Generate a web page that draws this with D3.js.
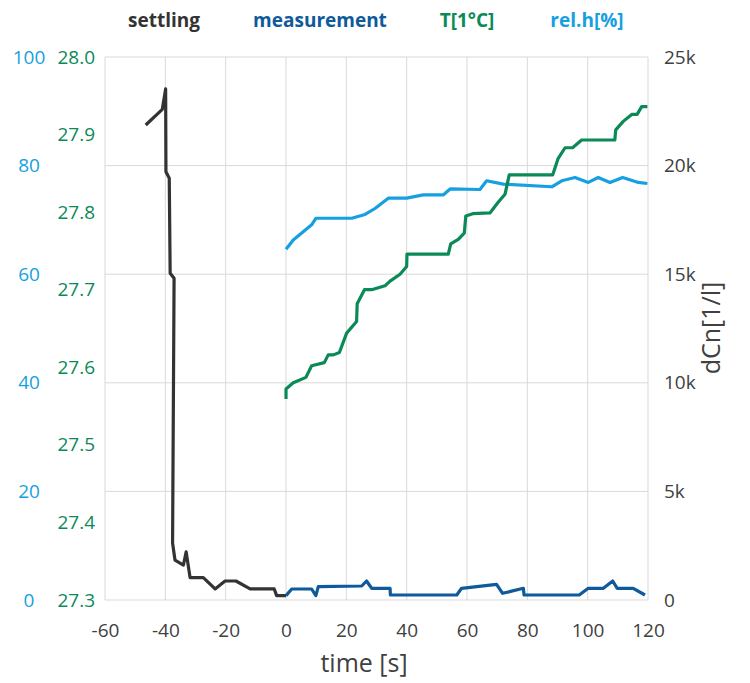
<!DOCTYPE html>
<html>
<head>
<meta charset="utf-8">
<script src="https://cdn.jsdelivr.net/npm/d3@7"></script>
<style>
  body { margin: 0; background: #fff; }
  text { font-family: "Open Sans", "Segoe UI", sans-serif; }
</style>
</head>
<body>
<div id="chart"></div>
<script>
// time [s] and dCn[1/l] readings, settling phase
const settlingTime = [-46.5, -41.0, -39.9, -39.8, -38.7, -38.4, -37.1, -37.6, -36.8, -34.0, -33.1, -31.8, -27.4, -23.5, -20.2, -16.6, -11.9, -3.9, -3.1, 0];
const settlingDCn = [21870, 22590, 23530, 19720, 19420, 15040, 14810, 2620, 1840, 1610, 2220, 1030, 1030, 510, 875, 875, 510, 510, 200, 200];

// measurement phase
const measTime = [0, 1.9, 8.5, 9.9, 10.7, 25.1, 26.7, 28.4, 34.5, 34.6, 56.6, 58.2, 69.8, 71.8, 78.7, 78.9, 97.2, 100.2, 105.2, 108.3, 109.8, 115.1, 119];
const measDCn = [200, 506, 506, 200, 612, 645, 875, 539, 539, 230, 230, 539, 723, 308, 539, 230, 230, 539, 539, 875, 539, 539, 230];

// temperature T[1°C]
const tempTime = [0, 0, 2.4, 6.6, 8.5, 12.7, 14.0, 15.7, 17.7, 20.1, 23.4, 23.6, 26.0, 28.4, 32.8, 34.5, 37.8, 40.0, 40.1, 53.8, 54.6, 57.1, 59.1, 59.6, 61.9, 67.6, 70.4, 72.6, 74.0, 88.4, 90.2, 92.5, 95.0, 98.0, 109.0, 109.3, 111.8, 114.6, 116.4, 117.9, 119.8];
const tempVal = [27.559, 27.572, 27.580, 27.587, 27.602, 27.606, 27.616, 27.616, 27.619, 27.644, 27.659, 27.682, 27.700, 27.700, 27.705, 27.711, 27.720, 27.730, 27.746, 27.746, 27.759, 27.765, 27.773, 27.795, 27.798, 27.799, 27.813, 27.823, 27.848, 27.848, 27.869, 27.883, 27.883, 27.893, 27.893, 27.906, 27.917, 27.926, 27.926, 27.936, 27.936];

// relative humidity rel.h[%]
const rhTime = [0, 2.4, 8.5, 9.9, 21.8, 26.2, 29.5, 33.9, 40.0, 45.5, 52.1, 54.4, 64.3, 66.5, 72.0, 88.1, 91.4, 95.8, 100.2, 103.5, 107.4, 111.6, 116.8, 119.8];
const rhVal = [64.6, 66.3, 69.1, 70.3, 70.3, 71.0, 72.1, 74.0, 74.0, 74.6, 74.6, 75.7, 75.6, 77.2, 76.6, 76.1, 77.2, 77.8, 76.9, 77.8, 76.9, 77.8, 76.9, 76.7];

// tick labels
const xTicks = [-60, -40, -20, 0, 20, 40, 60, 80, 100, 120];
const rhTicks = [0, 20, 40, 60, 80, 100];
const tempTicks = [27.3, 27.4, 27.5, 27.6, 27.7, 27.8, 27.9, 28.0];
const dcnTicks = [0, 5000, 10000, 15000, 20000, 25000];

const legendNames = ["settling", "measurement", "T[1°C]", "rel.h[%]"];
const colors = {settling: "#333333", measurement: "#0e5a9b", temp: "#0b8a57", rh: "#17a0e1"};

const width = 750, height = 683;
const plotLeft = 105, plotRight = 648, plotTop = 57, plotBottom = 600;

const svg = d3.select("#chart").append("svg")
    .attr("width", width)
    .attr("height", height);

const x = d3.scaleLinear().domain([-60, 120]).range([plotLeft, plotRight]);
const yDCn = d3.scaleLinear().domain([0, 25000]).range([plotBottom, plotTop]);
const yTemp = d3.scaleLinear().domain([27.3, 28.0]).range([plotBottom, plotTop]);
const yRh = d3.scaleLinear().domain([0, 100]).range([plotBottom, plotTop]);

// grid
svg.append("g").selectAll("line")
    .data(xTicks)
    .enter().append("line")
    .attr("x1", d => x(d)).attr("x2", d => x(d))
    .attr("y1", plotTop).attr("y2", plotBottom)
    .attr("stroke", "#d9d9d9").attr("stroke-width", 1);
svg.append("g").selectAll("line")
    .data(dcnTicks)
    .enter().append("line")
    .attr("x1", plotLeft).attr("x2", plotRight)
    .attr("y1", d => yDCn(d)).attr("y2", d => yDCn(d))
    .attr("stroke", "#d9d9d9").attr("stroke-width", 1);

// axes (labels only, no domain lines)
const xAxis = svg.append("g")
    .attr("transform", `translate(0,${plotBottom})`)
    .call(d3.axisBottom(x).tickValues(xTicks).tickSize(0).tickPadding(24)
        .tickFormat(d => String(d)));
const rightAxis = svg.append("g")
    .attr("transform", `translate(${plotRight},0)`)
    .call(d3.axisRight(yDCn).tickValues(dcnTicks).tickSize(0).tickPadding(16)
        .tickFormat(d => d === 0 ? "0" : (d / 1000) + "k"));
const tempAxis = svg.append("g")
    .attr("transform", `translate(95,0)`)
    .call(d3.axisLeft(yTemp).tickValues(tempTicks).tickSize(0).tickPadding(0)
        .tickFormat(d3.format(".1f")));
const rhAxis = svg.append("g")
    .attr("transform", `translate(29,0)`)
    .call(d3.axisLeft(yRh).tickValues(rhTicks).tickSize(0).tickPadding(0));

[xAxis, rightAxis, tempAxis, rhAxis].forEach(g => {
    g.select(".domain").remove();
    g.selectAll("text").style("font-size", "19px").attr("font-family", null);
});
xAxis.selectAll("text").attr("fill", "#404040");
rightAxis.selectAll("text").attr("fill", "#404040");
tempAxis.selectAll("text").attr("fill", colors.temp);
rhAxis.selectAll("text").attr("fill", colors.rh).attr("text-anchor", "middle");

// axis titles
svg.append("text")
    .attr("x", 364).attr("y", 672)
    .attr("text-anchor", "middle")
    .style("font-size", "25px").attr("fill", "#404040")
    .text("time [s]");
svg.append("text")
    .attr("transform", "translate(720,328) rotate(-90)")
    .attr("text-anchor", "middle")
    .style("font-size", "25px").attr("fill", "#404040")
    .text("dCn[1/l]");

// lines
function drawLine(xs, ys, yScale, color) {
    const pts = xs.map((t, i) => [t, ys[i]]);
    svg.append("path")
        .datum(pts)
        .attr("fill", "none")
        .attr("stroke", color)
        .attr("stroke-width", 3.2)
        .attr("stroke-linejoin", "round")
        .attr("d", d3.line().x(d => x(d[0])).y(d => yScale(d[1])));
}
drawLine(rhTime, rhVal, yRh, colors.rh);
drawLine(tempTime, tempVal, yTemp, colors.temp);
drawLine(settlingTime, settlingDCn, yDCn, colors.settling);
drawLine(measTime, measDCn, yDCn, colors.measurement);

// legend
const legendX = [164, 320, 467, 587];
const legendColors = [colors.settling, colors.measurement, colors.temp, colors.rh];
svg.append("g").selectAll("text")
    .data(legendNames)
    .enter().append("text")
    .attr("x", (d, i) => legendX[i])
    .attr("y", 27)
    .attr("text-anchor", "middle")
    .style("font-size", "19px")
    .style("font-weight", "bold")
    .attr("fill", (d, i) => legendColors[i])
    .text(d => d);
</script>
</body>
</html>
